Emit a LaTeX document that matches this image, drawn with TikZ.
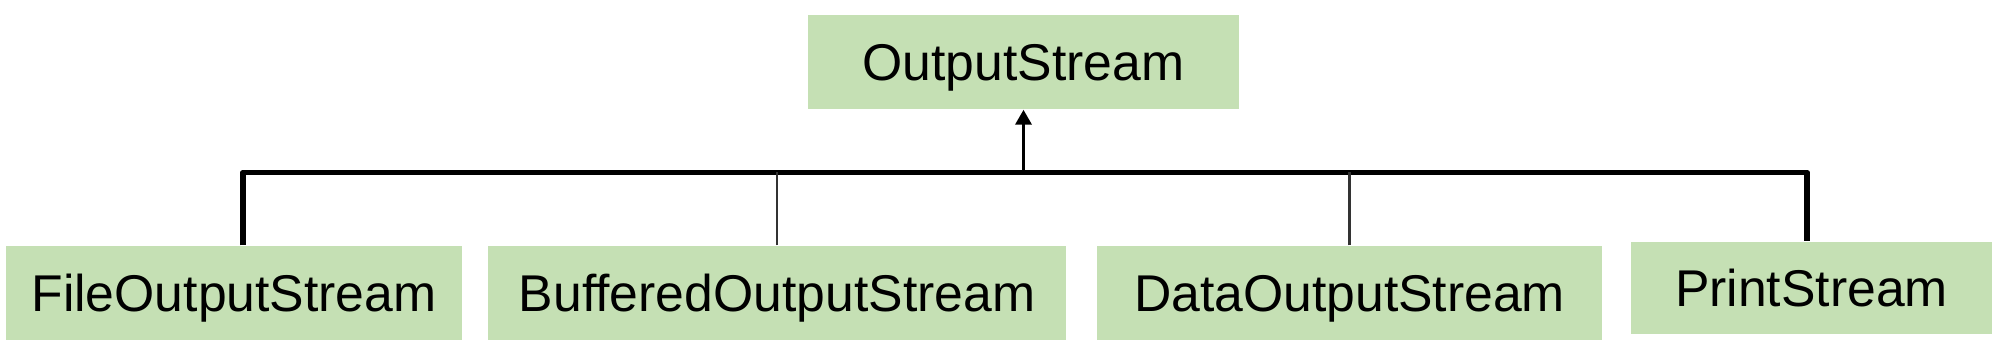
\documentclass[tikz,border=0pt]{standalone}
\usepackage{fontspec}
\setmainfont{Liberation Sans}
\usepackage{xcolor}
\usetikzlibrary{arrows.meta}

\definecolor{boxgreen}{HTML}{C5E0B4}

\begin{document}
\begin{tikzpicture}[x=0.01cm, y=-0.01cm,
    classbox/.style={fill=boxgreen, inner sep=0pt, minimum height=0.94cm,
        text height=10.5pt, text depth=0pt,
        font=\fontsize{14.7}{17}\selectfont},
    busline/.style={line width=1.7pt, line join=round},
    branchline/.style={line width=0.6pt, black!80},
    inherit/.style={line width=1pt, -{Triangle[length=0.15cm, width=0.16cm]}}]
    \useasboundingbox (0,0) rectangle (2000,340);

    % parent class
    \node[classbox, minimum width=4.31cm] (top) at (1023.5,62) {OutputStream};

    % subclasses
    \node[classbox, minimum width=4.56cm] (file) at (234,293) {FileOutputStream};
    \node[classbox, minimum width=5.78cm] (buffered) at (777,293) {BufferedOutputStream};
    \node[classbox, minimum width=5.05cm] (data) at (1349.5,293) {DataOutputStream};
    \node[classbox, minimum width=3.61cm, minimum height=0.92cm] (print) at (1811.5,288) {PrintStream};

    % inheritance bus
    \coordinate (bus) at (1023.5,172.5);
    \draw[busline] ([xshift=0.09cm]file.north) |- (bus) -| ([xshift=-0.045cm]print.north);
    \draw[branchline] (buffered.north) -- (buffered.north |- bus);
    \draw[branchline] (data.north) -- (data.north |- bus);
    \draw[inherit] (bus) -- (top.south);
\end{tikzpicture}
\end{document}
